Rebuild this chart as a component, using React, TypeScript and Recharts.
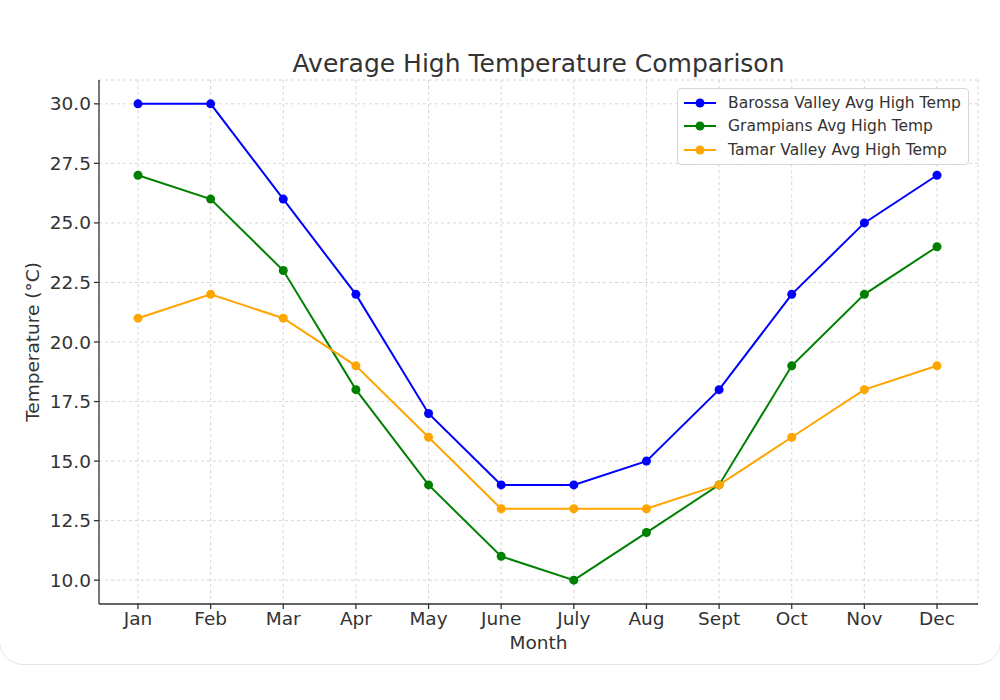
import { LineChart, Line, XAxis, YAxis, CartesianGrid } from 'recharts';

const months = ['Jan', 'Feb', 'Mar', 'Apr', 'May', 'June', 'July', 'Aug', 'Sept', 'Oct', 'Nov', 'Dec'];
const barossa = [30, 30, 26, 22, 17, 14, 14, 15, 18, 22, 25, 27];
const grampians = [27, 26, 23, 18, 14, 11, 10, 12, 14, 19, 22, 24];
const tamar = [21, 22, 21, 19, 16, 13, 13, 13, 14, 16, 18, 19];
const yTicks = [10, 12.5, 15, 17.5, 20, 22.5, 25, 27.5, 30];

const series = [
  { key: 'barossa', name: 'Barossa Valley Avg High Temp', color: '#0000ff' },
  { key: 'grampians', name: 'Grampians Avg High Temp', color: '#008000' },
  { key: 'tamar', name: 'Tamar Valley Avg High Temp', color: '#ffa500' },
];

const data = months.map((m, i) => ({
  month: m,
  barossa: barossa[i],
  grampians: grampians[i],
  tamar: tamar[i],
}));

const font = '"DejaVu Sans", sans-serif';

// legend drawn as an overlay so it doesn't steal space from the plot
function LegendBox() {
  return (
    <div
      style={{
        position: 'absolute',
        left: 677,
        top: 88,
        width: 292,
        boxSizing: 'border-box',
        background: 'rgba(255,255,255,0.85)',
        border: '1px solid #d6d6d6',
        borderRadius: 4,
        padding: '2px 6px 2px 5px',
        fontFamily: font,
        fontSize: 15.5,
        color: '#333',
      }}
    >
      {series.map((s) => (
        <div key={s.key} style={{ display: 'flex', alignItems: 'center', height: 23.5 }}>
          <svg width={34} height={12} style={{ marginRight: 11 }}>
            <line x1={1} y1={6} x2={33} y2={6} stroke={s.color} strokeWidth={2} />
            <circle cx={17} cy={6} r={4.5} fill={s.color} />
          </svg>
          <span style={{ whiteSpace: 'nowrap' }}>{s.name}</span>
        </div>
      ))}
    </div>
  );
}

export default function App() {
  return (
    <div style={{ position: 'absolute', left: 0, top: 0, width: 1000, height: 700, background: '#fff', overflow: 'hidden' }}>
      <div
        style={{
          position: 'absolute',
          left: -1,
          top: -40,
          width: 1000,
          height: 703,
          border: '1px solid #e4e4e4',
          borderRadius: 24,
        }}
      />
      <div
        style={{
          position: 'absolute',
          top: 49,
          left: 99,
          width: 879,
          textAlign: 'center',
          fontFamily: font,
          fontSize: 25,
          color: '#333',
        }}
      >
        Average High Temperature Comparison
      </div>
      <div style={{ position: 'absolute', left: 0, top: 0 }}>
        <LineChart width={1000} height={700} data={data} margin={{ top: 80, right: 22, bottom: 36, left: 0 }}>
          <CartesianGrid stroke="#cccccc" strokeDasharray="3 3" strokeWidth={0.8} />
          <XAxis
            dataKey="month"
            padding={{ left: 39, right: 41 }}
            height={60}
            stroke="#333"
            strokeWidth={1.3}
            tickSize={5}
            tickMargin={3}
            tick={{ fill: '#333', fontSize: 18.5, fontFamily: font }}
            label={{ value: 'Month', position: 'insideBottom', offset: 15, fill: '#333', fontSize: 18.5, fontFamily: font }}
          />
          <YAxis
            width={99}
            domain={[9, 31]}
            ticks={yTicks}
            tickFormatter={(v: number) => v.toFixed(1)}
            stroke="#333"
            strokeWidth={1.3}
            tickSize={5}
            tickMargin={3}
            tick={{ fill: '#333', fontSize: 18.5, fontFamily: font }}
            label={{
              value: 'Temperature (°C)',
              angle: -90,
              position: 'insideLeft',
              offset: 32,
              style: { textAnchor: 'middle' },
              fill: '#333',
              fontSize: 18.5,
              fontFamily: font,
            }}
          />
          {series.map((s) => (
            <Line
              key={s.key}
              type="linear"
              dataKey={s.key}
              name={s.name}
              stroke={s.color}
              strokeWidth={2}
              dot={{ r: 4.5, fill: s.color, stroke: s.color, strokeWidth: 0 }}
              activeDot={false}
              isAnimationActive={false}
            />
          ))}
        </LineChart>
      </div>
      <LegendBox />
    </div>
  );
}
